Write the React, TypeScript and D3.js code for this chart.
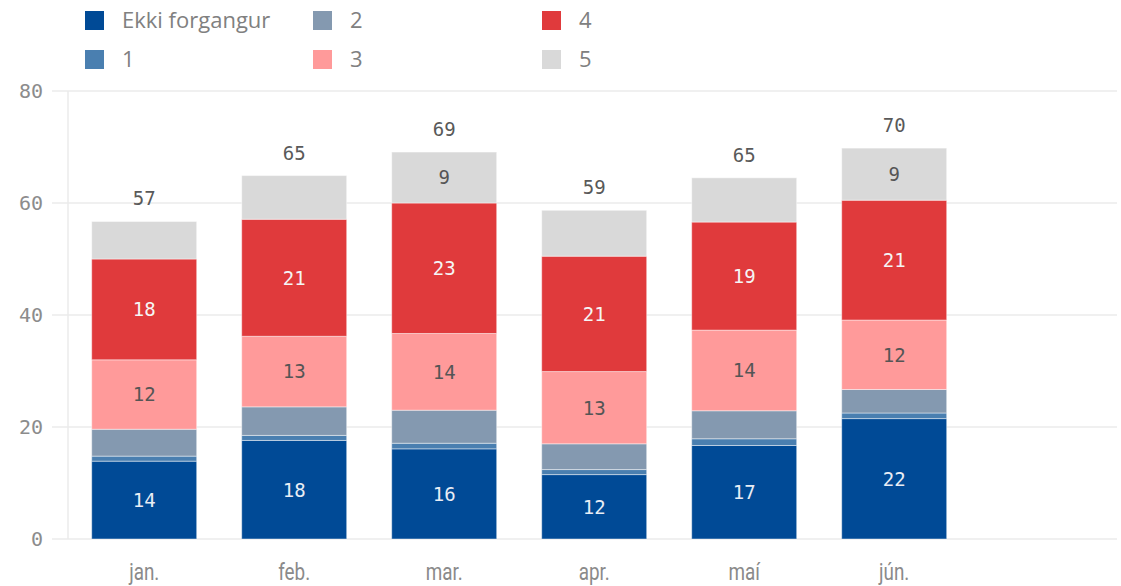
import React from "react";
import * as d3 from "d3";

const months = ["jan.", "feb.", "mar.", "apr.", "maí", "jún."];
const seriesNames = ["Ekki forgangur", "1", "2", "3", "4", "5"];
const ekki = [13.9, 17.6, 16.1, 11.5, 16.7, 21.5];
const p1 = [0.9, 0.9, 1.0, 0.9, 1.2, 1.0];
const p2 = [4.8, 5.1, 5.9, 4.6, 5.0, 4.2];
const p3 = [12.4, 12.6, 13.7, 12.9, 14.4, 12.4];
const p4 = [18.0, 20.9, 23.3, 20.6, 19.3, 21.4];
const p5 = [6.7, 7.8, 9.1, 8.2, 7.9, 9.3];
const yTicks = [0, 20, 40, 60, 80];
const colors = ["#004a96", "#4a7fb0", "#8499b0", "#ff9a9a", "#e03a3c", "#d9d9d9"];
const labelColors = ["#e8edf5", "#ffffff", "#ffffff", "#555555", "#f5f5f5", "#555555"];

const W = 1121;
const H = 586;
const mono = "'DejaVu Sans Mono', monospace";
const sans = "Roboto, 'Open Sans', sans-serif";
const legendFont = "'Open Sans', Roboto, sans-serif";

export default function App() {
  const seriesVals = [ekki, p1, p2, p3, p4, p5];
  const rows = months.map((m, i) => {
    const r: any = { month: m };
    seriesNames.forEach((s, k) => (r[s] = seriesVals[k][i]));
    return r;
  });
  const stack = d3.stack<any>().keys(seriesNames)(rows);

  const y = d3.scaleLinear().domain([0, 80]).range([539, 91]);
  const x = d3
    .scaleBand<string>()
    .domain(months)
    .range([68, 970.4])
    .paddingInner(0.3)
    .paddingOuter(0.158);
  const bw = x.bandwidth();

  const legendCols = [85, 313, 542];

  return (
    <svg width={W} height={H} style={{ position: "absolute", left: 0, top: 0, background: "#fff" }}>
      {/* grid */}
      {yTicks.map((t) => (
        <g key={t}>
          <line x1={52} x2={1117} y1={y(t)} y2={y(t)} stroke="#ebebeb" strokeWidth={1.5} />
          <text
            x={43}
            y={y(t)}
            dy="0.36em"
            textAnchor="end"
            fontFamily={mono}
            fontSize={20}
            fill="#8c8c8c"
          >
            {t}
          </text>
        </g>
      ))}
      <line x1={68} x2={68} y1={y(80)} y2={y(0)} stroke="#ebebeb" strokeWidth={1.5} />

      {/* bars */}
      {stack.map((layer, k) => (
        <g key={layer.key}>
          {layer.map((d, i) => {
            const x0 = x(months[i])!;
            const top = y(d[1]);
            const bot = y(d[0]);
            const v = d[1] - d[0];
            return (
              <g key={i}>
                <rect
                  x={x0}
                  y={top}
                  width={bw}
                  height={bot - top}
                  fill={colors[k]}
                  stroke="rgba(255,255,255,0.45)"
                  strokeWidth={1}
                />
                {v >= 8.5 && (
                  <text
                    x={x0 + bw / 2}
                    y={(top + bot) / 2}
                    dy="0.36em"
                    textAnchor="middle"
                    fontFamily={mono}
                    fontSize={19}
                    fill={labelColors[k]}
                  >
                    {Math.round(v)}
                  </text>
                )}
              </g>
            );
          })}
        </g>
      ))}

      {/* totals */}
      {rows.map((r, i) => {
        const total = seriesVals.reduce((s, arr) => s + arr[i], 0);
        return (
          <text
            key={i}
            x={x(months[i])! + bw / 2}
            y={y(total) - 16}
            textAnchor="middle"
            fontFamily={mono}
            fontSize={19}
            fill="#595959"
          >
            {Math.round(total)}
          </text>
        );
      })}

      {/* x labels */}
      {months.map((m) => (
        <text
          key={m}
          transform={`translate(${x(m)! + bw / 2},580) scale(0.82,1)`}
          textAnchor="middle"
          fontFamily={sans}
          fontSize={23}
          fill="#8a8a8a"
        >
          {m}
        </text>
      ))}

      {/* legend */}
      {seriesNames.map((s, k) => {
        const col = Math.floor(k / 2);
        const row = k % 2;
        const lx = legendCols[col];
        const ly = 11 + row * 39;
        return (
          <g key={s}>
            <rect x={lx} y={ly} width={19} height={19} fill={colors[k]} />
            <text
              x={lx + 37}
              y={ly + 17}
              fontFamily={legendFont}
              fontSize={22}
              fill="#808080"
            >
              {s}
            </text>
          </g>
        );
      })}
    </svg>
  );
}
